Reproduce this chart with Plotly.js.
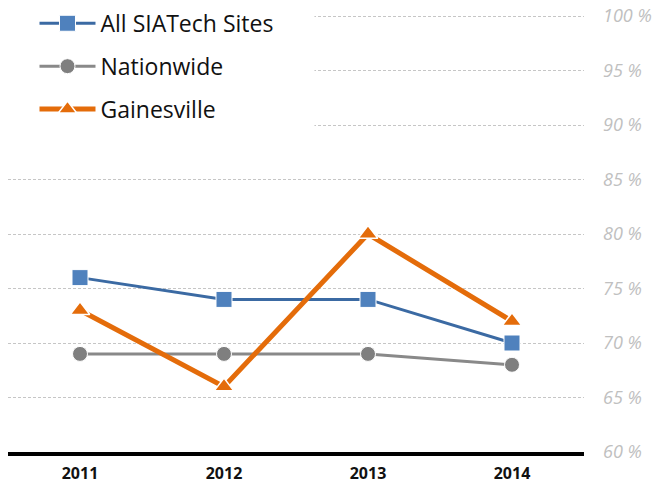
<!DOCTYPE html>
<html>
<head>
<meta charset="utf-8">
<script src="https://cdn.plot.ly/plotly-3.0.1.min.js"></script>
<style>html,body{margin:0;padding:0;background:#fff;}#chart{width:654px;height:484px;}</style>
</head>
<body>
<div id="chart"></div>
<script>
var years = ['2011', '2012', '2013', '2014'];
var siatech = [76, 74, 74, 70];
var nationwide = [69, 69, 69, 68];
var gainesville = [73, 66, 80, 72];
var seriesNames = ['All SIATech Sites', 'Nationwide', 'Gainesville'];
var yTicks = [60, 65, 70, 75, 80, 85, 90, 95, 100];
var yTickText = yTicks.map(function (v) { return v + ' %'; });

var traces = [
  {
    x: years, y: siatech, name: seriesNames[0], type: 'scatter', mode: 'lines+markers',
    legendgroup: 'a',
    line: {color: '#3b6aa3', width: 3},
    marker: {symbol: 'square', size: 16, color: '#4f81bd', line: {color: '#ffffff', width: 1}}
  },
  {
    x: years, y: nationwide, name: seriesNames[1], type: 'scatter', mode: 'lines+markers',
    legendgroup: 'b',
    line: {color: '#898989', width: 3},
    marker: {symbol: 'circle', size: 15, color: '#7f7f7f', line: {color: '#ffffff', width: 1}}
  },
  {
    x: years, y: gainesville, name: seriesNames[2], type: 'scatter', mode: 'lines+markers',
    legendgroup: 'c',
    line: {color: '#e46c0a', width: 5},
    marker: {symbol: 'triangle-up', size: 17, color: '#e46c0a', line: {color: '#ffffff', width: 1.5}}
  }
];

var layout = {
  width: 654, height: 484,
  margin: {l: 8, r: 70, t: 0, b: 32},
  paper_bgcolor: '#ffffff', plot_bgcolor: '#ffffff',
  font: {family: '"Open Sans", sans-serif', color: '#000000'},
  showlegend: true,
  legend: {
    x: 0.046, xanchor: 'left', y: 0.996, yanchor: 'top',
    bgcolor: 'rgba(0,0,0,0)',
    font: {size: 23, color: '#111111', family: '"Open Sans", sans-serif'},
    traceorder: 'grouped', tracegroupgap: 10,
    itemwidth: 56
  },
  xaxis: {
    type: 'category', range: [-0.5, 3.5],
    showgrid: false, zeroline: false,
    showline: true, linecolor: '#000000', linewidth: 4,
    ticks: '', ticklabelstandoff: 4,
    tickfont: {size: 16, color: '#111111', weight: 'bold', family: '"Open Sans", sans-serif'},
    fixedrange: true
  },
  yaxis: {
    side: 'right', range: [60, 101.47], tickmode: 'array', tickvals: yTicks, ticktext: yTickText,
    showgrid: true, gridcolor: '#c6c6c6', gridwidth: 1, griddash: '3px,2px',
    zeroline: false, showline: false, ticks: '',
    ticklabelstandoff: 18,
    tickfont: {size: 18, color: '#c0c0c0', style: 'italic', family: '"Open Sans", sans-serif'},
    fixedrange: true
  },
  shapes: [
    {type: 'rect', xref: 'paper', yref: 'paper', x0: -0.02, x1: 0.532, y0: 0.70, y1: 1.0,
     fillcolor: '#ffffff', line: {width: 0}, layer: 'above'}
  ]
};

Plotly.newPlot('chart', traces, layout, {displayModeBar: false, staticPlot: true});
</script>
</body>
</html>
